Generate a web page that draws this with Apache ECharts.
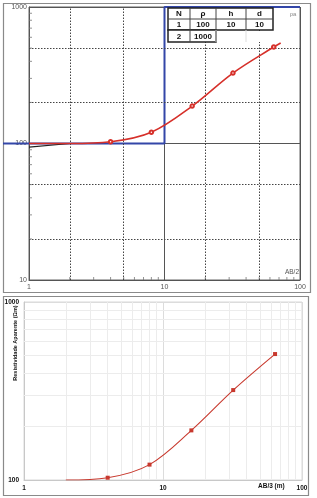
<!DOCTYPE html>
<html><head><meta charset="utf-8">
<script src="https://cdn.jsdelivr.net/npm/echarts@6/dist/echarts.min.js"></script>
<style>html,body{margin:0;padding:0;background:#fff}#c{width:317px;height:498px}</style>
</head><body><div id="c"></div>
<script>
// ---- data (top panel: field curve + model) ----
const topAB = [1, 2, 4, 8, 16, 32, 64, 72];
const topRho = [100, 100, 103, 121, 188, 328, 509, 545];
const topMarked = [false, false, true, true, true, true, true, false];
const blackAB = [1, 2];
const blackRho = [94, 100];
const modelAB = [1, 10, 10, 100];
const modelRho = [100, 100, 1000, 1000];
const topDottedX = [2, 5, 20, 50];
const topDottedY = [20, 50, 200, 500];
const minorVals = [2,3,4,5,6,7,8,9,20,30,40,50,60,70,80,90];
const yMinorVals = [20,30,40,50,60,70,80,90,200,300,400,500,600,700,800,900];
const tableHead = ['N', 'ρ', 'h', 'd'];
const tableRow1 = ['1', '100', '10', '10'];
const tableRow2 = ['2', '1000', '', ''];
// ---- data (bottom panel) ----
const botAB = [2, 4, 8, 16, 32, 64];
const botRho = [100, 103, 122, 190, 320, 510];
const botMarked = [false, true, true, true, true, true];
const botMinorX = [2,3,4,5,6,7,8,9,20,30,40,50,60,70,80,90];
const botMinorY = [200,300,400,500,600,700,800,900];

const chart = echarts.init(document.getElementById('c'), null, {renderer: 'canvas'});

const red = '#d6302a';
const blue = '#3346a8';

// table graphics
const colX = [168, 190, 216, 246, 273];
const rowY = [8, 19, 30, 42];
const tableG = [];
tableG.push({type:'rect', shape:{x:colX[0], y:rowY[0], width:colX[4]-colX[0], height:rowY[2]-rowY[0]}, style:{fill:'#fff', stroke:'#222', lineWidth:1.5}, z:100});
tableG.push({type:'rect', shape:{x:colX[0], y:rowY[2], width:colX[2]-colX[0], height:rowY[3]-rowY[2]}, style:{fill:'#fff', stroke:'#222', lineWidth:1.5}, z:100});
tableG.push({type:'rect', shape:{x:colX[2]+1, y:rowY[2]+1, width:colX[4]-colX[2]-1, height:rowY[3]-rowY[2]-1}, style:{fill:'#fff', stroke:null}, z:99});
for (let i = 1; i < 4; i++) {
  tableG.push({type:'line', shape:{x1:colX[i], y1:rowY[0], x2:colX[i], y2:(i<3?rowY[3]:rowY[2])}, style:{stroke:'#444', lineWidth:1}, z:101});
}
tableG.push({type:'line', shape:{x1:colX[0], y1:rowY[1], x2:colX[4], y2:rowY[1]}, style:{stroke:'#444', lineWidth:1}, z:101});
tableG.push({type:'line', shape:{x1:colX[2], y1:rowY[2], x2:colX[2], y2:rowY[3]}, style:{stroke:'#ddd', lineWidth:1}, z:101});
tableG.push({type:'line', shape:{x1:colX[3], y1:rowY[2], x2:colX[3], y2:rowY[3]}, style:{stroke:'#ddd', lineWidth:1}, z:101});
[tableHead, tableRow1, tableRow2].forEach((row, r) => {
  row.forEach((t, c) => {
    if (!t) return;
    tableG.push({type:'text', x:(colX[c]+colX[c+1])/2, y:(rowY[r]+rowY[r+1])/2+0.5,
      style:{text:t, fill:'#111', font:'bold 8px "Liberation Sans", Arial, sans-serif', align:'center', verticalAlign:'middle'}, z:102});
  });
});

const fmt = v => String(Math.round(v));
const lblTop = {color:'#555', fontSize:7, fontFamily:'"Liberation Sans", Arial, sans-serif', formatter:fmt};
const lblBot = {color:'#111', fontSize:6.5, fontWeight:'bold', fontFamily:'"Liberation Sans", Arial, sans-serif', formatter:fmt};

chart.setOption({
  animation: false,
  grid: [
    {left:29, top:7, right:17, bottom:218, show:true, borderColor:'#666', borderWidth:1, backgroundColor:'transparent'},
    {left:24, top:302, right:15, bottom:18, show:true, borderColor:'#d8d8d8', borderWidth:1}
  ],
  xAxis: [
    {type:'log', logBase:10, min:1, max:100, gridIndex:0,
     axisLine:{show:true, lineStyle:{color:'#555'}}, axisTick:{show:false},
     axisLabel:{...lblTop, margin:4},
     splitLine:{show:true, lineStyle:{color:'#555', width:1}},
     name:'AB/2', nameLocation:'end', nameGap:0,
     nameTextStyle:{color:'#555', fontSize:6.5, align:'right', verticalAlign:'bottom', padding:[0,1,4,0]}},
    {type:'log', logBase:10, min:1, max:100, gridIndex:1,
     axisLine:{show:true, lineStyle:{color:'#c8c8c8'}}, axisTick:{show:false},
     axisLabel:{...lblBot, margin:5},
     splitLine:{show:true, lineStyle:{color:'#dcdcdc', width:1}}}
  ],
  yAxis: [
    {type:'log', logBase:10, min:10, max:1000, gridIndex:0,
     axisLine:{show:true, lineStyle:{color:'#555'}}, axisTick:{show:false},
     axisLabel:{...lblTop, margin:2},
     splitLine:{show:true, lineStyle:{color:'#555', width:1}}},
    {type:'log', logBase:10, min:100, max:1000, gridIndex:1,
     axisLine:{show:true, lineStyle:{color:'#c8c8c8'}}, axisTick:{show:false},
     axisLabel:{...lblBot, margin:5},
     splitLine:{show:true, lineStyle:{color:'#dcdcdc', width:1}}}
  ],
  graphic: [
    {type:'rect', shape:{x:3.5, y:3.5, width:307, height:289}, style:{fill:null, stroke:'#8a8a8a', lineWidth:1.2}, z:-1},
    {type:'rect', shape:{x:3.5, y:296.5, width:305, height:199}, style:{fill:null, stroke:'#8a8a8a', lineWidth:1.2}, z:-1},
    {type:'text', x:293, y:14, style:{text:'ρa', fill:'#888', font:'6px "Liberation Sans", Arial, sans-serif', align:'center', verticalAlign:'middle'}, z:50},
    {type:'text', x:258, y:486, style:{text:'AB/3 (m)', fill:'#111', font:'bold 6.5px "Liberation Sans", Arial, sans-serif', align:'left', verticalAlign:'middle'}, z:50},
    {type:'text', x:15, y:343, rotation:Math.PI/2,
     style:{text:'Resistividade Aparente (Ωm)', fill:'#111', font:'bold 5.5px "Liberation Sans", Arial, sans-serif', align:'center', verticalAlign:'middle'}, z:50},
    ...tableG
  ],
  series: [
    // top dotted grid lines
    {type:'line', xAxisIndex:0, yAxisIndex:0, data:[], silent:true,
     markLine:{silent:true, symbol:'none', label:{show:false},
       lineStyle:{color:'#444', type:[1.5,1.5], width:1},
       data:[...topDottedX.map(v=>({xAxis:v})), ...topDottedY.map(v=>({yAxis:v}))]}},
    // top minor ticks on x axis
    {type:'scatter', xAxisIndex:0, yAxisIndex:0, silent:true, clip:false,
     symbol:'rect', symbolSize:[1,3], symbolOffset:[0,-1.5],
     itemStyle:{color:'#777'}, data:minorVals.map(v=>[v,10]), z:3},
    // top minor ticks on y axis
    {type:'scatter', xAxisIndex:0, yAxisIndex:0, silent:true, clip:false,
     symbol:'rect', symbolSize:[3,1], symbolOffset:[1.5,0],
     itemStyle:{color:'#777'}, data:yMinorVals.map(v=>[1,v]), z:3},
    // model (blue)
    {type:'line', xAxisIndex:0, yAxisIndex:0, clip:false, symbol:'none', z:4,
     lineStyle:{color:blue, width:2}, data:modelAB.map((x,i)=>[x, modelRho[i]])},
    // black segment
    {type:'line', xAxisIndex:0, yAxisIndex:0, symbol:'none', z:5,
     lineStyle:{color:'#222', width:1.2}, data:blackAB.map((x,i)=>[x, blackRho[i]])},
    // red field curve
    {type:'line', xAxisIndex:0, yAxisIndex:0, smooth:0.35, z:6,
     lineStyle:{color:red, width:1.6}, itemStyle:{color:red, borderColor:red, borderWidth:1},
     symbol:'emptyCircle', symbolSize:3.5,
     data:topAB.map((x,i)=> topMarked[i] ? [x, topRho[i]] : {value:[x, topRho[i]], symbol:'none'})},
    // bottom minor grid lines
    {type:'line', xAxisIndex:1, yAxisIndex:1, data:[], silent:true,
     markLine:{silent:true, symbol:'none', label:{show:false},
       lineStyle:{color:'#ececec', type:'solid', width:1},
       data:[...botMinorX.map(v=>({xAxis:v})), ...botMinorY.map(v=>({yAxis:v}))]}},
    // bottom curve
    {type:'line', xAxisIndex:1, yAxisIndex:1, smooth:0.35, z:6,
     lineStyle:{color:'#c8392e', width:1.1}, itemStyle:{color:'#c8392e'},
     symbol:'rect', symbolSize:4,
     data:botAB.map((x,i)=> botMarked[i] ? [x, botRho[i]] : {value:[x, botRho[i]], symbol:'none'})}
  ]
});

// extend the model's first layer leftwards past the axis, at the level given by the y scale
const p = chart.convertToPixel({gridIndex:0}, [modelAB[0], modelRho[0]]);
chart.setOption({graphic: [{id:'modelExt', type:'line', shape:{x1:3, y1:p[1], x2:p[0], y2:p[1]}, style:{stroke:blue, lineWidth:2}, z:20}]});
</script></body></html>
